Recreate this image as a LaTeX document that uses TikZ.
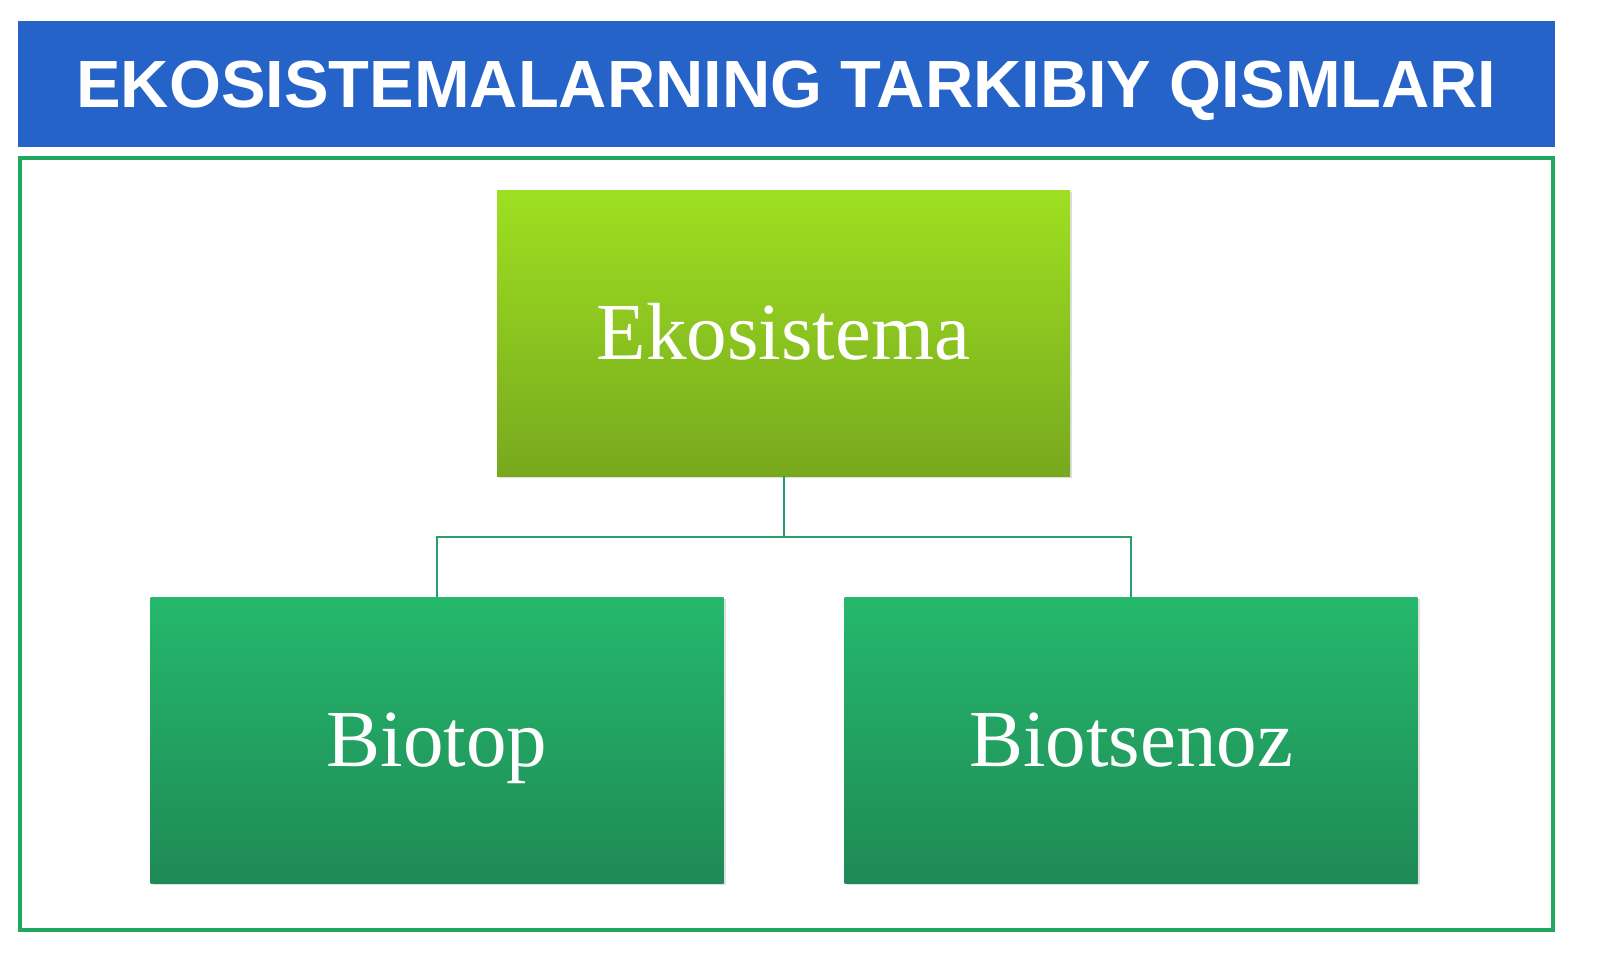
\documentclass[tikz,border=0pt]{standalone}
\usepackage{fontspec}
\setmainfont{Liberation Serif}
\newfontfamily\titlefont{Liberation Sans}
\usetikzlibrary{shadows}
\definecolor{bannerblue}{HTML}{2563C8}
\definecolor{framegreen}{HTML}{1FA85E}
\definecolor{linkgreen}{HTML}{2A9D6A}
\definecolor{limetop}{HTML}{9EE021}
\definecolor{limebot}{HTML}{78A81E}
\definecolor{greentop}{HTML}{25B86C}
\definecolor{greenbot}{HTML}{1F8A56}
\tikzset{
  boxbase/.style={rectangle, inner sep=0pt, minimum width=573pt, minimum height=286pt,
    text=white, text height=53.6pt, text depth=0pt,
    drop shadow={shadow xshift=2pt, shadow yshift=-2pt, opacity=0.25},
    font=\fontsize{81}{90}\selectfont},
  topbox/.style={boxbase, top color=limetop, bottom color=limebot},
  lowbox/.style={boxbase, top color=greentop, bottom color=greenbot},
  link/.style={draw=linkgreen, line width=2pt}
}
\begin{document}
\begin{tikzpicture}[x=1pt,y=-1pt]
\useasboundingbox (0,0) rectangle (1600,969);
\fill[white] (0,0) rectangle (1600,969);
\node[rectangle, fill=bannerblue, minimum width=1537pt, minimum height=126pt, inner sep=0pt,
  text height=47.8pt, text depth=-8pt,
  text=white, font=\titlefont\bfseries\fontsize{66.8}{70}\selectfont] (title) at (786.5,84) {EKOSISTEMALARNING TARKIBIY QISMLARI};
\node[draw=framegreen, line width=4pt, minimum width=1533pt, minimum height=772pt, inner sep=0pt] (frame) at (786.5,544) {};
\node[topbox] (eko) at (783.5,333) {Ekosistema};
\node[lowbox] (biotop) at (437,740) {Biotop};
\node[lowbox] (biots) at (1131,740) {Biotsenoz};
\coordinate (j) at (783.5,537);
\draw[link] (eko.south) -- (j) -| (biotop.north);
\draw[link] (j) -| (biots.north);
\end{tikzpicture}
\end{document}
